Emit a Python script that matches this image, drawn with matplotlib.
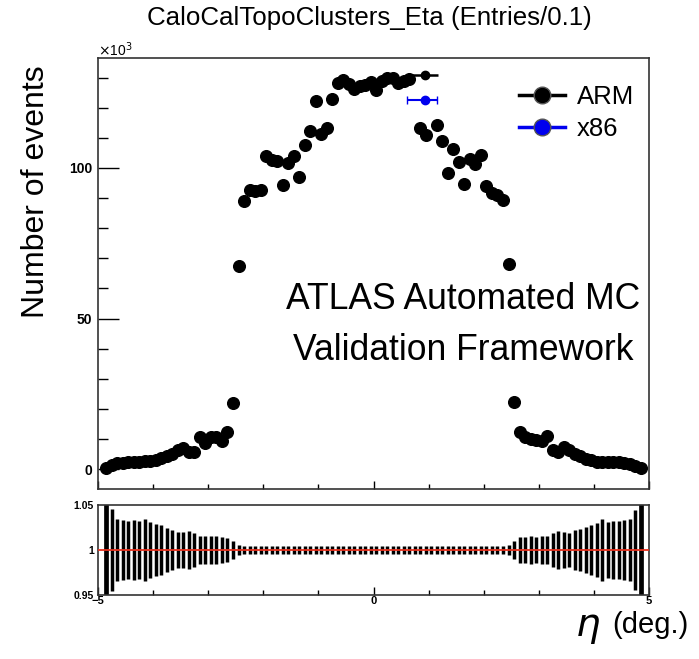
import numpy as np
import matplotlib
matplotlib.use("Agg")
import matplotlib.pyplot as plt
from matplotlib.lines import Line2D
from matplotlib.ticker import MultipleLocator, FixedLocator

plt.rcParams["font.family"] = ["Liberation Sans", "DejaVu Sans"]
plt.rcParams["mathtext.fontset"] = "dejavusans"

# bin centres of the eta histogram (0.1 wide bins, outer bins empty)
eta = np.round(np.arange(-4.85, 4.86, 0.1), 2)

# ARM entries per bin, in thousands
arm_counts = [
    0.3, 1.3, 1.9, 2.1, 2.3, 2.4, 2.5, 2.6, 2.7, 3.0, 3.7, 4.3, 5.1,
    6.2, 7.0, 5.8, 5.6, 10.5, 8.8, 10.6, 10.5, 9.4, 12.3, 22.0, 67.5,
    89.0, 92.8, 92.2, 92.8, 103.8, 102.5, 102.2, 94.2, 101.8, 103.8, 97.1, 107.5,
    112.3, 122.2, 111.3, 113.2, 123.0, 128.1, 129.2, 128.0, 126.3, 127.2, 127.6, 128.4,
    125.9, 128.8, 129.8, 130.0, 128.3, 128.7, 129.4, np.nan, 113.2, 111.0, np.nan, 114.3,
    109.0, 98.4, 106.2, 102.1, 94.7, 102.9, 101.3, 104.3, 94.0, 91.8, 91.0, 89.4,
    68.1, 22.2, 12.4, 10.5, 10.0, 9.8, 9.3, 11.0, 6.4, 5.8, 7.3, 6.2,
    5.0, 4.2, 3.4, 2.9, 2.5, 2.4, 2.4, 2.3, 2.2, 2.0, 1.6, 1.1, 0.3,
]
# x86 entries are identical to ARM in the reference
x86_counts = list(arm_counts)

# ratio error half-widths
ratio_err = [
    0.08, 0.045, 0.034, 0.033, 0.032, 0.033, 0.032, 0.034, 0.031, 0.029, 0.028, 0.024, 0.022,
    0.020, 0.020, 0.021, 0.019, 0.016, 0.015, 0.015, 0.015, 0.014, 0.013, 0.010, 0.006,
    0.0048, 0.0047, 0.0047, 0.0047, 0.0045, 0.0045, 0.0045, 0.0047, 0.0045, 0.0045, 0.0046, 0.0044,
    0.0043, 0.0041, 0.0043, 0.0043, 0.0041, 0.0040, 0.0040, 0.0040, 0.0040, 0.0040, 0.0040, 0.0040,
    0.0040, 0.0040, 0.0040, 0.0040, 0.0040, 0.0040, 0.0040, 0.0040, 0.0043, 0.0043, 0.0041, 0.0043,
    0.0044, 0.0046, 0.0045, 0.0045, 0.0047, 0.0045, 0.0045, 0.0045, 0.0047, 0.0047, 0.0047, 0.0048,
    0.0055, 0.010, 0.014, 0.014, 0.015, 0.014, 0.016, 0.015, 0.019, 0.021, 0.020, 0.019,
    0.022, 0.023, 0.026, 0.028, 0.030, 0.034, 0.031, 0.032, 0.032, 0.033, 0.034, 0.044, 0.08,
]

# the stray overlay markers near eta ~ 0.9
stray_eta = [0.93]
stray_arm = [130.9]
stray_x86 = [122.6]
stray_xlo = [0.63]
stray_xhi = [1.17]

arm = np.array(arm_counts, dtype=float)
x86 = np.array(x86_counts, dtype=float)
ratio = np.where(np.isnan(arm), 1.0, arm / x86)

fig = plt.figure(figsize=(6.99, 6.59), dpi=100)
ax = fig.add_axes([0.1402, 0.258, 0.7883, 0.654])
rax = fig.add_axes([0.1402, 0.0971, 0.7883, 0.1366])

frame_col = "#333333"

# ---- main panel
ax.plot(eta, arm, "o", color="black", ms=8.4, mec="black", zorder=3)
sx = np.array(stray_eta)
ax.errorbar(sx, stray_x86, xerr=[sx - np.array(stray_xlo) + 0.02, np.array(stray_xhi) - sx - 0.02],
            fmt="o", color="#0000ee", ms=6, capsize=3, lw=1.5, zorder=4)
ax.errorbar(sx, stray_arm, xerr=[sx - np.array(stray_xlo), np.array(stray_xhi) - sx],
            fmt="o", color="black", ms=6, lw=1.8, zorder=4)

ax.set_xlim(-5, 5)
ax.set_ylim(-6.6, 136.5)
ax.yaxis.set_major_locator(FixedLocator([0, 50, 100]))
ax.yaxis.set_minor_locator(MultipleLocator(10))
ax.xaxis.set_major_locator(FixedLocator([-5, 0, 5]))
ax.xaxis.set_minor_locator(MultipleLocator(1))
ax.tick_params(axis="y", which="major", direction="in", length=15, width=1.0, labelsize=10, pad=4)
ax.tick_params(axis="y", which="minor", direction="in", length=7, width=1.0)
ax.tick_params(axis="x", which="major", direction="in", length=6, width=1.0, labelbottom=False)
ax.tick_params(axis="x", which="minor", direction="in", length=3.6, width=1.0)
for lab in ax.get_yticklabels():
    lab.set_fontweight("bold")
for s in ax.spines.values():
    s.set_color(frame_col)
    s.set_linewidth(1.2)

fig.text(98 / 699, 1 - 50 / 659, r"$\times$10$^{3}$", fontsize=10, ha="left", va="center")

handles = [
    Line2D([], [], color="black", lw=2.5, marker="o", ms=12, mfc="black", mec="#555555"),
    Line2D([], [], color="#0000ee", lw=2.5, marker="o", ms=12, mfc="#0000ee", mec="#555555"),
]
ax.legend(handles, ["ARM", "x86"], loc="upper right", bbox_to_anchor=(1.005, 0.978),
          frameon=False, fontsize=18.5, handlelength=1.8, handletextpad=0.45,
          labelspacing=0.3, borderaxespad=0.3)

fig.text(463 / 699, 1 - 300 / 659, "ATLAS Automated MC", fontsize=25.6, ha="center", va="center")
fig.text(463 / 699, 1 - 350 / 659, "Validation Framework", fontsize=25.6, ha="center", va="center")

fig.text(369 / 699, 1 - 18 / 659, "CaloCalTopoClusters_Eta (Entries/0.1)", fontsize=18.6,
         ha="center", va="center")
fig.text(36 / 699, 1 - 192 / 659, "Number of events", fontsize=23, rotation=90,
         ha="center", va="center")

# ---- ratio panel
lws = [3.4 if e > 0.05 else 2.5 for e in ratio_err]
rax.vlines(eta, ratio - np.array(ratio_err), ratio + np.array(ratio_err),
           colors="black", linewidths=lws, zorder=2)
rax.axhline(1.0, color="#e8301c", lw=1.3, zorder=3)
rax.set_xlim(-5, 5)
rax.set_ylim(0.95, 1.05)
rax.yaxis.set_major_locator(FixedLocator([0.95, 1.0, 1.05]))
rax.set_yticklabels(["0.95", "1", "1.05"])
rax.xaxis.set_major_locator(FixedLocator([-5, 0, 5]))
rax.xaxis.set_minor_locator(MultipleLocator(1))
rax.tick_params(axis="y", which="major", length=0, labelsize=7.5, pad=3)
rax.tick_params(axis="x", which="major", direction="in", length=6, width=1.0, labelsize=8, pad=1)
rax.tick_params(axis="x", which="minor", direction="in", length=3.6, width=1.0)
for lab in rax.get_xticklabels() + rax.get_yticklabels():
    lab.set_fontweight("bold")
for s in rax.spines.values():
    s.set_color(frame_col)
    s.set_linewidth(1.2)

fig.text(575 / 699, 1 - 628 / 659, r"$\eta$", fontsize=28, ha="left", va="center")
fig.text(612 / 699, 1 - 625 / 659, "(deg.)", fontsize=21, ha="left", va="center")

fig.savefig("out.png", dpi=100)
plt.close(fig)
